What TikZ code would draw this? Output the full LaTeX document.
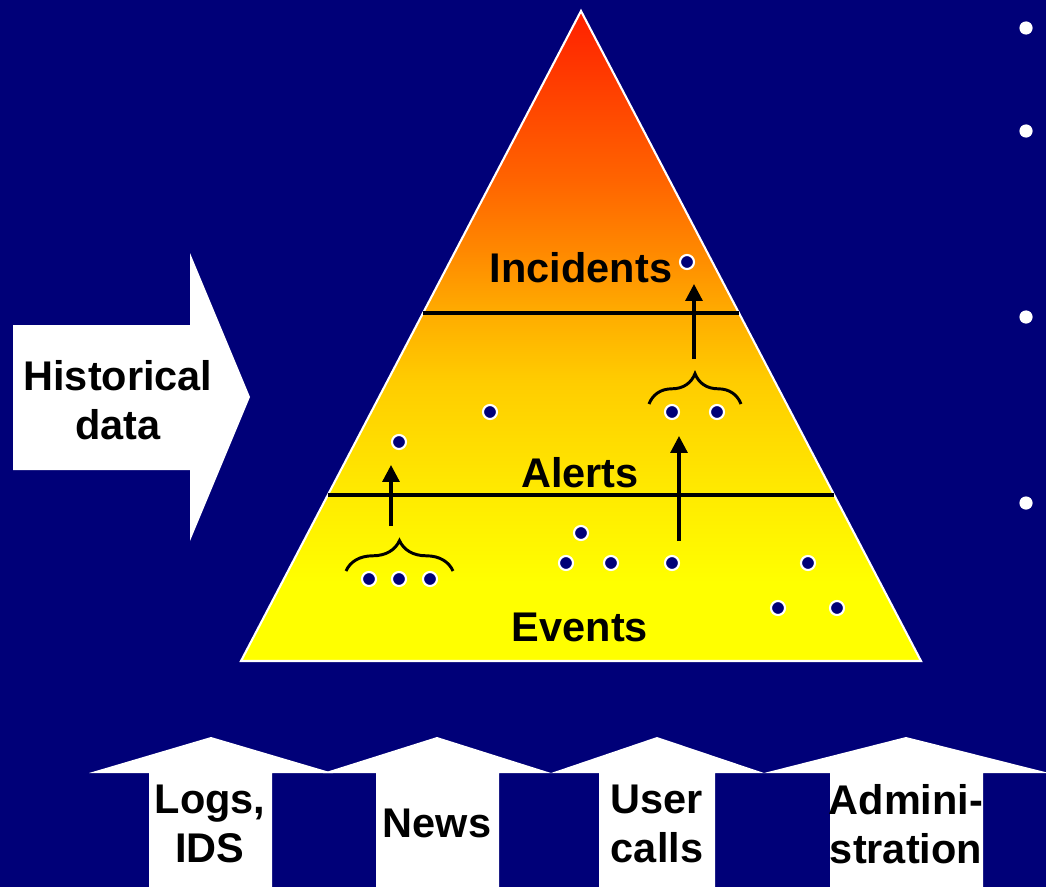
\documentclass[tikz,border=0pt]{standalone}
\usepackage{fontspec}
\setmainfont{Liberation Sans}
\usetikzlibrary{arrows.meta,calc,decorations.pathreplacing}
\definecolor{navy}{RGB}{0,0,120}
\definecolor{pyrA}{RGB}{255,32,0}
\definecolor{pyrB}{RGB}{255,100,0}
\definecolor{pyrC}{RGB}{255,136,0}
\definecolor{pyrD}{RGB}{255,172,0}
\definecolor{pyrE}{RGB}{255,204,0}
\definecolor{pyrF}{RGB}{255,234,0}
\definecolor{pyrG}{RGB}{255,255,0}
\pgfdeclareverticalshading{pyramid}{100bp}{color(0bp)=(pyrG); color(31bp)=(pyrG); color(38bp)=(pyrF); color(46.6bp)=(pyrE); color(51.8bp)=(pyrD); color(56.6bp)=(pyrC); color(62bp)=(pyrB); color(75bp)=(pyrA); color(100bp)=(pyrA)}

\begin{document}
\begin{tikzpicture}[x=0.025cm,y=-0.025cm,font=\fontsize{29.5}{35}\selectfont\bfseries]
    \tikzstyle{spot}=[circle,draw=white,fill=navy,line width=1.5pt,inner sep=0pt,minimum size=0.35cm]
    \tikzstyle{bullet}=[circle,fill=white,inner sep=0pt,minimum size=0.33cm]
    \tikzstyle{word}=[align=center,inner sep=0pt]
    \tikzstyle{raise}=[-{Triangle[length=0.42cm,width=0.42cm]},line width=2.3pt]
    \tikzstyle{curly}=[decorate,decoration={brace,amplitude=0.76cm},line width=2.1pt]
    \fill[navy] (0,0) rectangle (1046,887);
    \useasboundingbox (0,0) rectangle (1046,887);
    % the pyramid and its three levels
    \coordinate (top) at (581,11);
    \coordinate (bl) at (241,661);
    \coordinate (br) at (921,661);
    \shade[shading=pyramid,draw=white,line width=1.5pt] (top) -- (br) -- (bl) -- cycle;
    \draw[line width=2.3pt] ($(top)!0.4646!(bl)$) coordinate (il) -- ($(top)!0.4646!(br)$) coordinate (ir);
    \draw[line width=2.3pt] ($(top)!0.7446!(bl)$) coordinate (al) -- ($(top)!0.7446!(br)$) coordinate (ar);
    \node[anchor=base,inner sep=0pt] (incidents) at (581,282) {Incidents};
    \node[anchor=base,inner sep=0pt] (alerts) at (580,487) {Alerts};
    \node[anchor=base,inner sep=0pt] (events) at (580,641) {Events};
    \node[spot] (i1) at (687,262) {};
    \node[spot] (a1) at (399,442) {};
    \node[spot] (a2) at (490,412) {};
    \node[spot] (a3) at (672,412) {};
    \node[spot] (a4) at (717,412) {};
    \node[spot] (e1) at (369,579) {};
    \node[spot] (e2) at (399,579) {};
    \node[spot] (e3) at (430,579) {};
    \node[spot] (e4) at (581,533) {};
    \node[spot] (e5) at (566,563) {};
    \node[spot] (e6) at (611,563) {};
    \node[spot] (e7) at (672,563) {};
    \node[spot] (e8) at (808,563) {};
    \node[spot] (e9) at (778,608) {};
    \node[spot] (e10) at (837,608) {};
    \coordinate (lbl) at (346,571);
    \coordinate (lbr) at (453,571);
    \coordinate (rbl) at (649,404);
    \coordinate (rbr) at (741,404);
    \draw[curly] (lbl) -- (lbr);
    \draw[curly] (rbl) -- (rbr);
    \coordinate (up1s) at (391,526);
    \coordinate (up1e) at (391,465);
    \coordinate (up2s) at (679,541);
    \coordinate (up2e) at (679,436);
    \coordinate (up3s) at (694,359);
    \coordinate (up3e) at (694,284);
    \draw[raise] (up1s) -- (up1e);
    \draw[raise] (up2s) -- (up2e);
    \draw[raise] (up3s) -- (up3e);
    % historical data arrow
    \fill[white] (13,325) -- (190,325) -- (190,253) -- (250,397) -- (190,541) -- (190,470) -- (13,470) -- cycle;
    \node[word] (hist) at (118,400) {Historical\\data};
    % sources feeding from below
    \fill[white] (89,773) -- (211,737) -- (333,773) -- (272,773) -- (272,890) -- (149,890) -- (149,773) -- cycle;
    \fill[white] (323,773) -- (437,737) -- (551,773) -- (499,773) -- (499,890) -- (376,890) -- (376,773) -- cycle;
    \fill[white] (551,773) -- (657,737) -- (764,773) -- (715,773) -- (715,890) -- (599,890) -- (599,773) -- cycle;
    \fill[white] (764,773) -- (906,737) -- (1049,773) -- (983,773) -- (983,890) -- (830,890) -- (830,773) -- cycle;
    \node[word] (logs) at (210,824) {Logs,\\IDS};
    \node[word] (news) at (437,823) {News};
    \node[word] (calls) at (657,824) {User\\calls};
    \node[word] (admin) at (906,824) {Admini-\\stration};
    % bullets on the right
    \node[bullet] (b1) at (1026,28) {};
    \node[bullet] (b2) at (1026,131) {};
    \node[bullet] (b3) at (1026,317) {};
    \node[bullet] (b4) at (1026,503) {};
\end{tikzpicture}
\end{document}
